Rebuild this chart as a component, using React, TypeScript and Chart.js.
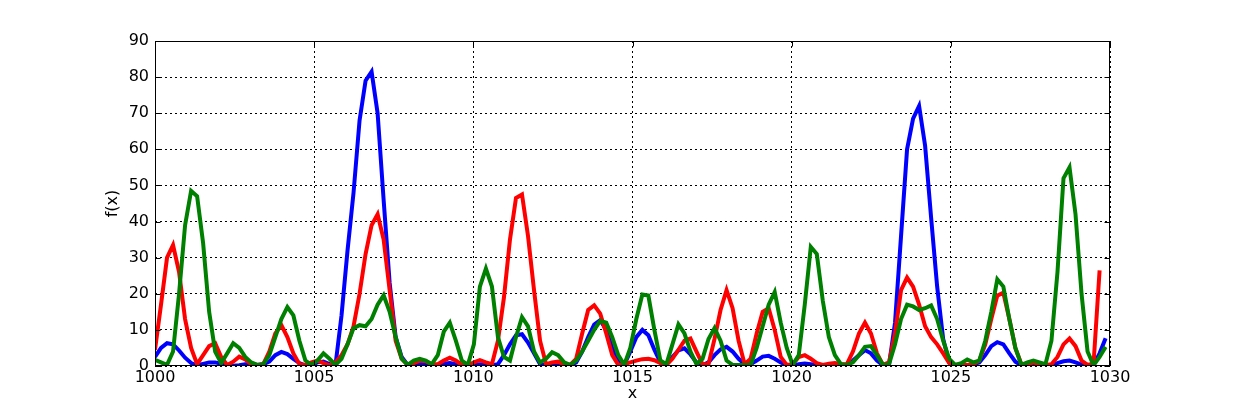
import React, { useEffect, useRef } from "react";
import { Chart, registerables } from "chart.js";

Chart.register(...registerables);

// x sampling: x_i = X_START + i * X_STEP
const X_START = 1000;
const X_STEP = 0.189;

const X_MIN = 1000;
const X_MAX = 1030;
const X_TICK_STEP = 5;
const Y_MIN = 0;
const Y_MAX = 90;
const Y_TICK_STEP = 10;

const X_TITLE = "x";
const Y_TITLE = "f(x)";

const blueValues = [
  2.5, 5, 6.3, 6, 4.3, 2.3, 0.8, 0.2, 0.6, 1,
  1, 0.6, 0.2, 0.1, 0.2, 0.5, 0.5, 0.3, 0.5, 1.2,
  3, 3.9, 3.3, 2, 0.8, 0.1, 0.3, 1, 1.2, 0.5,
  0.3, 14, 32, 48, 68, 79, 81.5, 70, 46, 23,
  8, 2.5, 0.3, 0.3, 0.8, 0.8, 0.3, 0.3, 0.6, 0.8,
  0.5, 0.2, 0.1, 0.3, 0.5, 0.4, 0.2, 0.5, 3, 6,
  8.5, 8.8, 6.5, 3.5, 0.5, 0.3, 0.5, 0.8, 0.3, 0.2,
  1, 4, 8, 11.5, 12.7, 10, 5, 1.5, 0.3, 4,
  8, 10, 8.5, 4.5, 1, 0.3, 2.5, 4.3, 4.9, 3.2,
  1, 0.2, 1, 3, 4.6, 5.3, 4, 2, 0.5, 0.5,
  1.5, 2.6, 2.8, 2, 1, 0.3, 0.1, 0.5, 0.7, 0.5,
  0.3, 0.2, 0.1, 0, 0, 0.2, 1.5, 3, 4.4, 3.5,
  1.5, 0.2, 0.3, 12, 36, 60, 68.5, 72, 61, 41,
  22, 7.5, 1, 0.2, 0.1, 0.2, 0.5, 1, 3, 5.5,
  6.6, 6, 3.5, 1.2, 0.2, 0, 0, 0, 0.1, 0.3,
  0.8, 1.3, 1.5, 1, 0.4, 0.1, 0.3, 3.5, 7.7,
];

const redValues = [
  4.5, 17, 30, 33.5, 26, 13, 5, 0.5, 3, 5.5,
  6.3, 2.5, 0.3, 1.2, 2.6, 1.8, 0.5, 0.3, 0.5, 4,
  9, 11.3, 8, 3.5, 0.5, 0.3, 1, 1.5, 0.8, 0.2,
  1, 3, 6, 11, 20, 31, 39, 42, 35, 21,
  7, 2, 0.3, 0.8, 1.5, 1.3, 0.5, 0.5, 1.5, 2.3,
  1.5, 0.3, 0.2, 1, 1.6, 1, 0.5, 7, 19, 35,
  46.5, 47.5, 36, 21, 7, 0.5, 1, 1.2, 0.5, 0.3,
  2, 9, 15.5, 16.8, 14.5, 9, 3, 0.3, 0.5, 1,
  1.5, 1.9, 2, 1.6, 0.8, 0.3, 2, 4.5, 7, 7.6,
  4, 0.5, 0.5, 7.5, 15.5, 21, 16, 7, 0.5, 2,
  9, 15, 16, 10, 2.5, 0.3, 0.5, 2.5, 3, 2,
  0.8, 0.3, 0.6, 0.8, 0.5, 0.5, 4, 9, 12, 9,
  3.5, 0.3, 1, 9, 21, 24.5, 22, 17, 11, 8,
  6, 3.5, 0.8, 0.3, 0.5, 0.3, 0.5, 1.5, 6, 13,
  19.5, 20.3, 13, 5, 0.5, 0.5, 1, 0.5, 0.3, 0.5,
  2.5, 6, 7.6, 5.5, 1.5, 0.3, 0.7, 26.5,
];

const greenValues = [
  1.7, 1, 0.3, 4, 20, 39, 48.5, 47, 34, 15,
  4, 0.8, 3.5, 6.3, 5, 2.5, 1, 0.3, 0.5, 3,
  8, 13, 16.3, 14, 7, 1.5, 0.3, 1.5, 3.5, 2,
  0.3, 2, 6, 10.5, 11.3, 11, 13, 17, 19.6, 15,
  8, 2, 0.3, 1.5, 2, 1.5, 0.5, 3, 9.5, 12,
  7, 1.5, 0.3, 6, 22, 27, 22, 8, 2.5, 1.5,
  8, 13.5, 11, 4, 1, 2, 3.8, 3, 1, 0.3,
  1.5, 4, 7, 10, 12.5, 12, 8, 3, 0.3, 5,
  13, 19.8, 19.5, 10, 1.5, 0.5, 6, 11.5, 9, 4,
  0.5, 2, 7.5, 10.5, 7, 1.5, 0.3, 0.3, 0.3, 0.3,
  5, 11, 17, 20.5, 12, 5, 0.3, 3, 17, 33,
  31, 18, 8, 3, 0.5, 0.3, 1, 3, 5.3, 5.5,
  3, 0.3, 0.5, 6, 13, 17, 16.5, 15.5, 16, 16.8,
  13, 7, 2, 0.3, 0.8, 1.8, 1, 1.5, 7, 15,
  24, 22, 13, 5, 0.3, 1, 1.5, 1, 0.5, 7,
  26, 52, 55, 42, 20, 4, 0.2, 2.5, 5.3,
];

const SERIES = [
  { name: "blue", values: blueValues, color: "#0000ff", order: 3 },
  { name: "red", values: redValues, color: "#ff0000", order: 2 },
  { name: "green", values: greenValues, color: "#008000", order: 1 },
];

const FONT_FAMILY = "'DejaVu Sans', 'Liberation Sans', sans-serif";
const FONT_SIZE = 16;
const TICK_MARK = 5.5;

const framePlugin = {
  id: "mplFrame",
  afterDraw(chart: any) {
    const { ctx, chartArea, scales } = chart;
    const { left, right, top, bottom } = chartArea;
    ctx.save();
    ctx.strokeStyle = "#000000";
    ctx.lineWidth = 1;
    ctx.setLineDash([]);
    ctx.beginPath();
    scales.x.ticks.forEach((t: any) => {
      const px = Math.round(scales.x.getPixelForValue(t.value)) + 0.5;
      ctx.moveTo(px, bottom);
      ctx.lineTo(px, bottom - TICK_MARK);
      ctx.moveTo(px, top);
      ctx.lineTo(px, top + TICK_MARK);
    });
    scales.y.ticks.forEach((t: any) => {
      const py = Math.round(scales.y.getPixelForValue(t.value)) + 0.5;
      ctx.moveTo(left, py);
      ctx.lineTo(left + TICK_MARK, py);
      ctx.moveTo(right, py);
      ctx.lineTo(right - TICK_MARK, py);
    });
    ctx.stroke();
    ctx.strokeRect(left + 0.5, top + 0.5, right - left - 1, bottom - top - 1);
    ctx.restore();
  },
};

export default function App() {
  const canvasRef = useRef<HTMLCanvasElement | null>(null);

  useEffect(() => {
    const canvas = canvasRef.current;
    if (!canvas) return;
    const datasets = SERIES.map((s) => ({
      label: s.name,
      data: s.values.map((v, i) => ({ x: X_START + i * X_STEP, y: v })),
      borderColor: s.color,
      backgroundColor: s.color,
      borderWidth: 4,
      pointRadius: 0,
      pointHoverRadius: 0,
      tension: 0,
      fill: false,
      clip: 0,
      order: s.order,
      borderJoinStyle: "miter" as const,
    }));

    const chart = new Chart(canvas, {
      type: "line",
      data: { datasets },
      options: {
        animation: false,
        responsive: false,
        devicePixelRatio: 1,
        events: [],
        layout: { padding: { left: 99, right: 123, top: 41, bottom: 0 } },
        plugins: { legend: { display: false }, tooltip: { enabled: false } },
        scales: {
          x: {
            type: "linear",
            min: X_MIN,
            max: X_MAX,
            afterFit: (scale: any) => {
              scale.height = 41;
            },
            ticks: {
              stepSize: X_TICK_STEP,
              color: "#000",
              padding: 2,
              maxRotation: 0,
              font: { family: FONT_FAMILY, size: FONT_SIZE },
              callback: (v: any) => String(v),
            },
            grid: { color: "#000", lineWidth: 1, drawTicks: false },
            border: { display: false, dash: [2, 3] },
            title: {
              display: true,
              text: X_TITLE,
              color: "#000",
              font: { family: FONT_FAMILY, size: FONT_SIZE },
            },
          },
          y: {
            type: "linear",
            min: Y_MIN,
            max: Y_MAX,
            afterFit: (scale: any) => {
              scale.width = 56;
            },
            ticks: {
              stepSize: Y_TICK_STEP,
              color: "#000",
              padding: 6,
              font: { family: FONT_FAMILY, size: FONT_SIZE },
              callback: (v: any) => String(v),
            },
            grid: { color: "#000", lineWidth: 1, drawTicks: false },
            border: { display: false, dash: [2, 3] },
            title: {
              display: true,
              text: Y_TITLE,
              color: "#000",
              font: { family: FONT_FAMILY, size: FONT_SIZE },
            },
          },
        },
      },
      plugins: [framePlugin],
    });

    return () => {
      chart.destroy();
    };
  }, []);

  return (
    <div
      style={{
        position: "absolute",
        left: 0,
        top: 0,
        width: 1233,
        height: 407,
        background: "#ffffff",
      }}
    >
      <canvas ref={canvasRef} width={1233} height={407} style={{ display: "block" }} />
    </div>
  );
}
